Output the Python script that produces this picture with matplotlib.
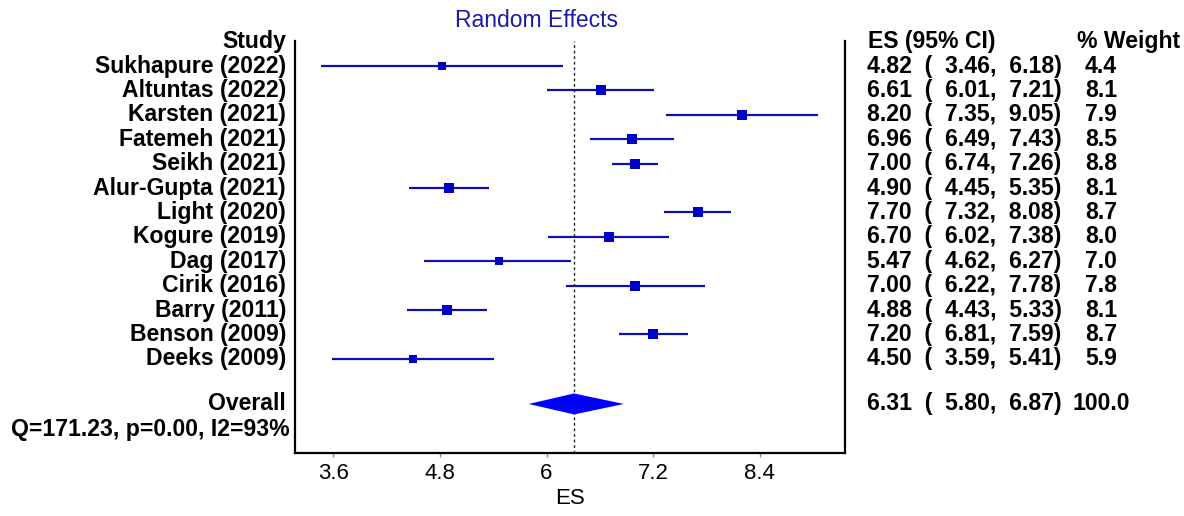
import matplotlib
matplotlib.use("Agg")
import matplotlib.pyplot as plt
from matplotlib.transforms import blended_transform_factory
import numpy as np

studies = ["Sukhapure (2022)", "Altuntas (2022)", "Karsten (2021)", "Fatemeh (2021)",
           "Seikh (2021)", "Alur-Gupta (2021)", "Light (2020)", "Kogure (2019)",
           "Dag (2017)", "Cirik (2016)", "Barry (2011)", "Benson (2009)", "Deeks (2009)"]
es = [4.82, 6.61, 8.20, 6.96, 7.00, 4.90, 7.70, 6.70, 5.47, 7.00, 4.88, 7.20, 4.50]
lo = [3.46, 6.01, 7.35, 6.49, 6.74, 4.45, 7.32, 6.02, 4.62, 6.22, 4.43, 6.81, 3.59]
hi = [6.18, 7.21, 9.05, 7.43, 7.26, 5.35, 8.08, 7.38, 6.27, 7.78, 5.33, 7.59, 5.41]
weight = [4.4, 8.1, 7.9, 8.5, 8.8, 8.1, 8.7, 8.0, 7.0, 7.8, 8.1, 8.7, 5.9]
overall_es, overall_lo, overall_hi, overall_w = 6.31, 5.80, 6.87, 100.0
het_text = "Q=171.23, p=0.00, I2=93%"
xticks = [3.6, 4.8, 6.0, 7.2, 8.4]
xtick_labels = ["3.6", "4.8", "6", "7.2", "8.4"]

plt.rcParams['font.family'] = ['Liberation Sans', 'DejaVu Sans']

W, H = 1184, 516
fig = plt.figure(figsize=(W / 100, H / 100), dpi=100)
top_px, bot_px = 41, 453
ax = fig.add_axes([295 / W, 1 - bot_px / H, (845 - 295) / W, (bot_px - top_px) / H])

line_col = '#1010b0'
mark_col = '#0000c8'

rows = np.arange(1, len(studies) + 1)
overall_row = len(studies) + 1.85
het_row = len(studies) + 2.9

for r, e, l, h, w in zip(rows, es, lo, hi, weight):
    ax.plot([l, h], [r, r], color=line_col, lw=1.6, solid_capstyle='butt')
    ax.plot([e], [r], marker='s', color=mark_col, ms=7.2 * np.sqrt(w / 8.8), mew=0)

# diamond
dh = 0.43
ax.fill([overall_lo, overall_es, overall_hi, overall_es],
        [overall_row, overall_row - dh, overall_row, overall_row + dh],
        color='#0000ff', lw=0, zorder=3)
ax.axvline(overall_es, color='#222222', lw=1.0, ls=(0, (2, 2)), zorder=2)

ax.set_xlim(3.169, 9.359)
ax.set_ylim(16.86, -0.025)
ax.set_yticks([])
ax.set_xticks(xticks)
ax.set_xticklabels(xtick_labels, fontsize=16)
ax.tick_params(axis='x', length=3, width=1, color='#888888', pad=4)
ax.spines['top'].set_visible(False)
for s in ['left', 'right', 'bottom']:
    ax.spines[s].set_linewidth(1.6)
ax.set_xlabel("ES", fontsize=16, labelpad=3)

tr = blended_transform_factory(fig.transFigure, ax.transData)
fs = 16.6
xl = 286 / W
kw = dict(transform=tr, va='center', fontsize=fs, fontweight='bold', clip_on=False)
ax.text(xl, 0, "Study", ha='right', **kw)
for r, s in zip(rows, studies):
    ax.text(xl, r, s, ha='right', **kw)
ax.text(xl, overall_row, "Overall", ha='right', **kw)
ax.text(290 / W, het_row, het_text, ha='right', **kw)

xc = 867 / W
xw = 1085 / W
ax.text(868 / W, 0, "ES (95% CI)", ha='left', **kw)
ax.text(1077 / W, 0, "% Weight", ha='left', **kw)
for r, e, l, h, w in zip(rows, es, lo, hi, weight):
    ax.text(xc, r, f"{e:.2f}  (  {l:.2f},  {h:.2f})", ha='left', **kw)
    ax.text(xw, r, f"{w:.1f}", ha='left', **kw)
ax.text(xc, overall_row, f"{overall_es:.2f}  (  {overall_lo:.2f},  {overall_hi:.2f})", ha='left', **kw)
ax.text(1072 / W, overall_row, f"{overall_w:.1f}", ha='left', **kw)

fig.text(618 / W, 1 - 27 / H, "Random Effects", ha='right', va='baseline', fontsize=16.5, color='#1a1aa8')

fig.savefig("out.png", dpi=100)
